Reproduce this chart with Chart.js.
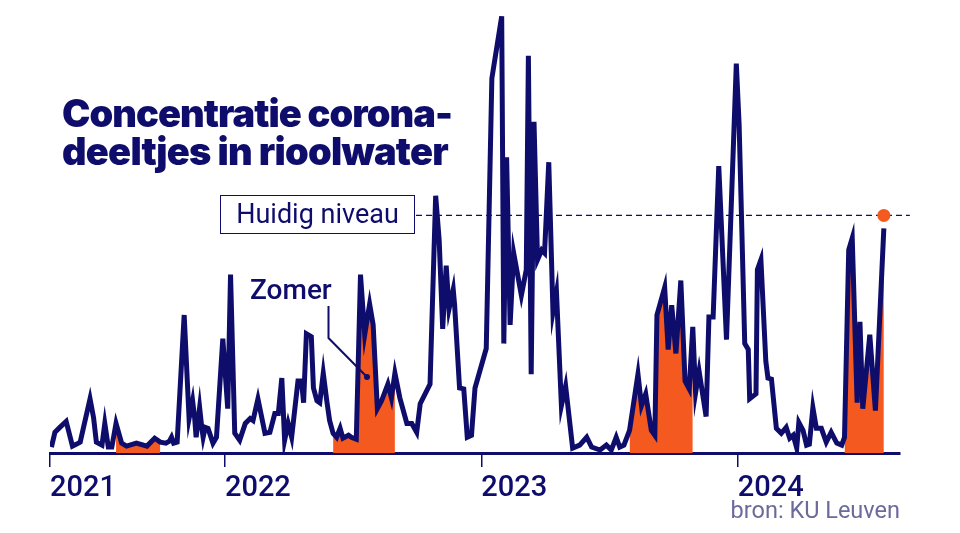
<!DOCTYPE html>
<html>
<head>
<meta charset="utf-8">
<script src="https://cdn.jsdelivr.net/npm/chart.js@4.4.1/dist/chart.umd.min.js"></script>
<style>
  html, body { margin:0; padding:0; background:#fff; }
  #wrap { position:relative; width:960px; height:533px; overflow:hidden; background:#fff; }
  #c { position:absolute; left:0; top:0; }
  .t { position:absolute; white-space:nowrap; color:#0f0d6b; }
  #title { left:62px; top:94px; font-family:"Inter","Lato","Roboto",sans-serif; font-weight:900; font-size:38px; line-height:38px; font-variant-ligatures:none; font-feature-settings:"liga" 0, "calt" 0; }
  #title span { display:block; }
  #huidig { left:220px; top:195px; width:193px; height:37px; border:1.5px solid #0f0d6b; font-family:"Roboto",sans-serif; font-size:27px; line-height:37px; text-align:center; }
  #zomer { left:250px; top:276px; font-family:"Roboto",sans-serif; font-weight:500; font-size:28px; line-height:28px; }
  #bron { right:60px; top:497px; font-family:"Roboto",sans-serif; font-size:23.5px; line-height:26px; color:#6b6a9b; }
  svg { position:absolute; left:0; top:0; }
</style>
</head>
<body>
<div id="wrap">
  <canvas id="c" width="960" height="533"></canvas>
  <svg width="960" height="533">
    <polyline points="328.5,306 328.5,338 366,376" fill="none" stroke="#0f0d6b" stroke-width="2"/>
    <circle cx="367" cy="377" r="3" fill="#0f0d6b"/>
  </svg>
  <div class="t" id="title"><span id="l1">Concentratie corona-</span><span id="l2">deeltjes in rioolwater</span></div>
  <div class="t" id="huidig">Huidig niveau</div>
  <div class="t" id="zomer">Zomer</div>
  <div class="t" id="bron">bron: KU Leuven</div>
</div>
<script>
// Days since start of the series (late April 2021)
const days = [2,7,14,23,32,38,43,57,62,66,74,78,83,88,94,102,109,123,138,149,157,165,170,173,176,181,191,198,203,206,208,213,216,218,221,225,232,237,246,253,257,263,270,278,285,289,296,306,313,320,325,330,334,339,344,353,358,361,365,372,375,380,384,389,394,398,403,408,413,417,425,429,436,442,448,455,460,466,472,481,486,491,498,508,515,522,527,534,541,549,554,559,564,568,574,576,583,589,594,600,605,621,629,643,646,650,655,660,671,678,681,685,689,694,700,704,710,716,721,728,734,744,754,764,771,783,792,799,806,811,817,825,837,842,848,856,861,864,875,880,885,891,898,904,910,915,919,924,934,938,944,952,963,977,981,989,994,996,1005,1007,1012,1019,1022,1027,1034,1041,1048,1053,1058,1063,1066,1072,1077,1081,1086,1091,1098,1105,1112,1120,1127,1131,1137,1142,1149,1153,1157,1167,1175,1187];
// Concentration (relative index)
const conc = [6,21,26,32,7,9,11,55,36,11,8,30,6,6,30,10,7,10,7,15,11,10,12,16,10,11,140,35,53,35,16,46,26,16,26,25,10,16,116,45,181,20,13,30,35,33,55,20,21,40,40,76,13,30,16,73,73,51,121,118,66,53,51,81,53,33,20,16,25,15,18,16,14,181,120,151,130,45,53,70,56,81,56,30,30,21,50,60,70,261,216,126,190,146,166,150,66,65,16,18,66,106,380,443,111,300,130,203,160,186,403,80,336,196,206,203,295,143,163,48,68,5,8,16,6,3,8,3,16,6,8,23,80,48,60,23,18,140,168,105,150,101,175,73,65,128,61,83,37,138,138,291,115,395,333,111,105,55,60,186,196,93,76,75,25,20,26,15,18,5,31,23,8,9,46,25,25,11,21,10,8,16,206,218,51,133,45,120,43,228];
const tickDays = [0,249,614,979];
const tickLabels = ["2021","2022","2023","2024"];
const summers = [[94,161],[403,494],[825,916],[1131,1187]];
const currentLevel = 241;
const levelFrom = 521, levelTo = 1224;

const NAVY = "#0f0d6b", ORANGE = "#f4591f";
const pts = days.map((d,i)=>({x:d, y:conc[i]}));

const datasets = [
  { data: pts, borderColor: NAVY, borderWidth: 5, pointRadius: 0, fill: false, tension: 0, order: 0, borderJoinStyle: 'miter' }
];
summers.forEach(([a,b])=>{
  datasets.push({ data: pts.filter(p=>p.x>=a && p.x<=b), borderWidth: 0, borderColor: 'rgba(0,0,0,0)', backgroundColor: ORANGE, pointRadius: 0, fill: 'origin', tension: 0, order: 2 });
});
datasets.push({ data: [{x:levelFrom,y:currentLevel},{x:levelTo,y:currentLevel}], borderColor: NAVY, borderWidth: 1.3, borderDash: [6,4], pointRadius: 0, fill: false, order: 3, clip: false });
datasets.push({ data: [{x:days[days.length-1], y:currentLevel}], showLine: false, pointRadius: 6.5, pointBackgroundColor: ORANGE, pointBorderWidth: 0, order: -1, clip: false });

new Chart(document.getElementById('c'), {
  type: 'line',
  data: { datasets },
  options: {
    responsive: false, animation: false, devicePixelRatio: 1,
    layout: { padding: { left: 50, right: 60, top: 0, bottom: 0 } },
    plugins: { legend: { display: false }, tooltip: { enabled: false } },
    scales: {
      x: {
        type: 'linear', min: 0, max: 1210,
        afterBuildTicks: s => { s.ticks = tickDays.map(v => ({ value: v })); },
        afterFit: s => { s.height = 80; },
        ticks: {
          callback: v => tickLabels[tickDays.indexOf(v)],
          align: 'start', padding: 4, color: NAVY, autoSkip: false, maxRotation: 0,
          font: { family: 'Roboto', size: 29, weight: '500' }
        },
        grid: { display: true, drawOnChartArea: false, drawTicks: true, tickLength: 14, color: NAVY, lineWidth: 1.5 },
        border: { display: true, color: NAVY, width: 3 }
      },
      y: { display: false, min: 0, max: 453 }
    }
  }
});

// fit title lines to the reference widths
function fit(id, target) {
  const el = document.getElementById(id);
  el.style.display = 'inline-block';
  const w = el.getBoundingClientRect().width;
  const n = el.textContent.length;
  el.style.letterSpacing = ((target - w) / n) + 'px';
  el.style.display = 'block';
}
(document.fonts ? document.fonts.ready : Promise.resolve()).then(() => {
  fit('l1', 390);
  fit('l2', 386);
});
</script>
</body>
</html>
